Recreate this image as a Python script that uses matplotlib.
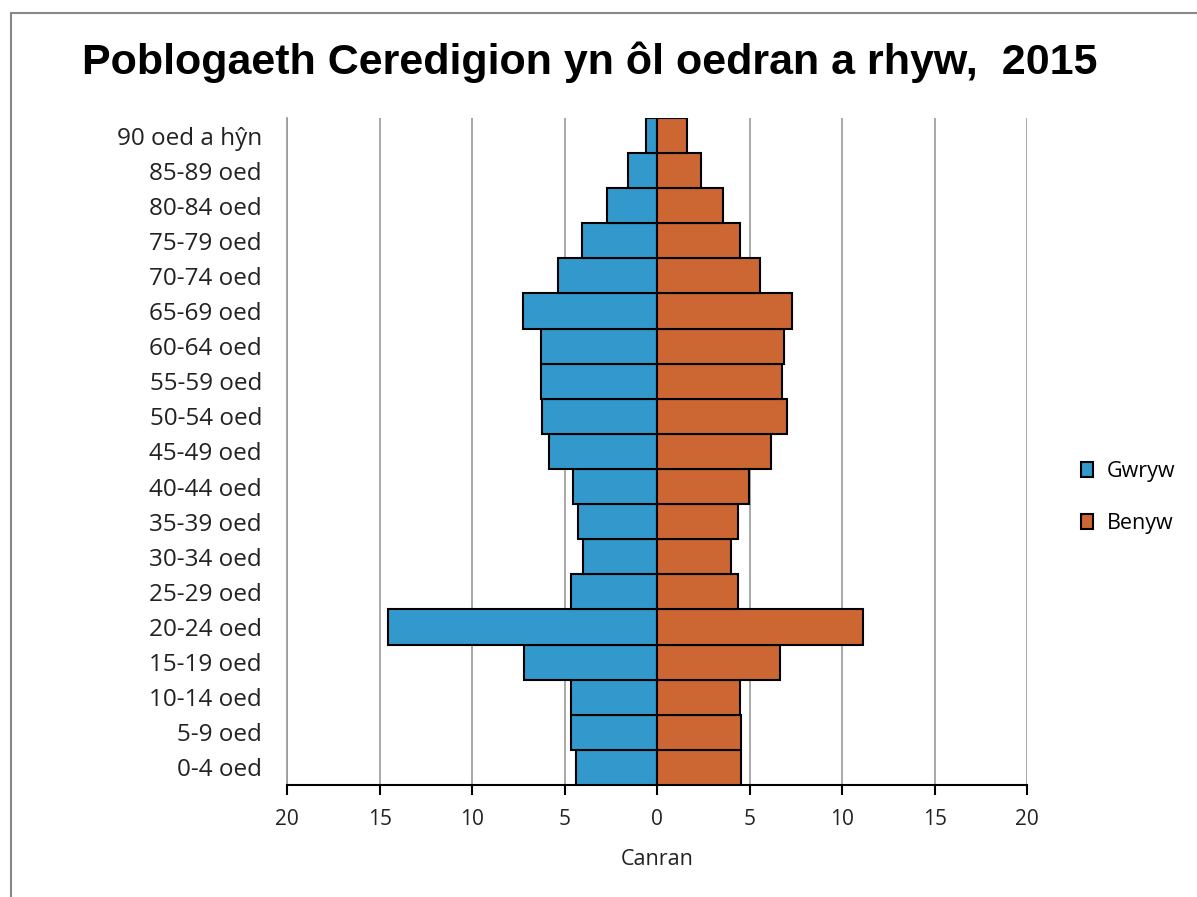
import matplotlib.pyplot as plt
from matplotlib.lines import Line2D
from matplotlib.patches import Patch
import numpy as np

age_groups = ["0-4 oed", "5-9 oed", "10-14 oed", "15-19 oed", "20-24 oed",
              "25-29 oed", "30-34 oed", "35-39 oed", "40-44 oed", "45-49 oed",
              "50-54 oed", "55-59 oed", "60-64 oed", "65-69 oed", "70-74 oed",
              "75-79 oed", "80-84 oed", "85-89 oed", "90 oed a hŷn"]
# Gwryw (male) and Benyw (female), percent of population
male = [4.4, 4.65, 4.65, 7.17, 14.55, 4.64, 4.03, 4.28, 4.57, 5.82,
        6.22, 6.29, 6.29, 7.26, 5.38, 4.05, 2.7, 1.56, 0.62]
female = [4.51, 4.51, 4.46, 6.63, 11.12, 4.37, 4.0, 4.37, 4.97, 6.14,
          6.99, 6.74, 6.86, 7.27, 5.58, 4.48, 3.55, 2.37, 1.62]
xticks = [-20, -15, -10, -5, 0, 5, 10, 15, 20]

blue = "#3399cc"
orange = "#cc6633"

fig = plt.figure(figsize=(11.97, 8.97), dpi=100)
ax = fig.add_axes([0.2398, 0.1249, 0.6184, 0.7436])

y = np.arange(len(age_groups))
ax.barh(y, -np.array(male), height=1.0, color=blue, edgecolor="black", linewidth=1.5, zorder=3)
ax.barh(y, female, height=1.0, color=orange, edgecolor="black", linewidth=1.5, zorder=3)

ax.set_xlim(-20, 20)
ax.set_ylim(-0.5, len(age_groups) - 0.5)
ax.set_xticks(xticks)
ax.set_xticklabels([str(abs(t)) for t in xticks], fontsize=15, color="#222222", family="Open Sans")
ax.set_yticks(y)
ax.set_yticklabels(age_groups, fontsize=17.5, color="#222222", family="Open Sans")
ax.tick_params(axis="y", length=0, pad=18)
ax.tick_params(axis="x", direction="out", length=7, width=1.5, color="black", pad=10)
ax.grid(axis="x", color="#999999", linewidth=1.2, zorder=0)

for s in ["top", "right"]:
    ax.spines[s].set_visible(False)
ax.spines["left"].set_color("#999999")
ax.spines["left"].set_linewidth(1.2)
ax.spines["bottom"].set_color("black")
ax.spines["bottom"].set_linewidth(1.5)

ax.set_xlabel("Canran", fontsize=15.5, color="#222222", family="Open Sans", labelpad=14)

fig.text(0.493, 0.931, "Poblogaeth Ceredigion yn ôl oedran a rhyw,  2015",
         fontsize=31, fontweight="bold", family="Liberation Sans", ha="center", va="center")

handles = [Patch(facecolor=blue, edgecolor="black", linewidth=1.5, label="Gwryw"),
           Patch(facecolor=orange, edgecolor="black", linewidth=1.5, label="Benyw")]
fig.legend(handles=handles, loc="center left", bbox_to_anchor=(0.887, 0.445), frameon=False,
           prop={"family": "Open Sans", "size": 15.5}, handlelength=0.55, handleheight=0.7,
           labelspacing=1.45, handletextpad=0.65)

# figure border (top and left edges visible)
fig.add_artist(Line2D([11 / 1197, 1], [1 - 13 / 897, 1 - 13 / 897], color="#888888", linewidth=1.5))
fig.add_artist(Line2D([11 / 1197, 11 / 1197], [0, 1 - 13 / 897], color="#888888", linewidth=1.5))

fig.savefig("out.png", dpi=100)
